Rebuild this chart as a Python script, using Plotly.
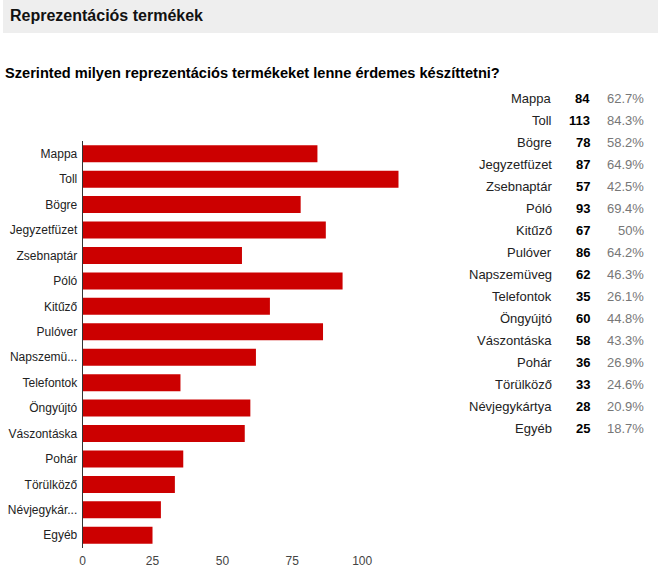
import plotly.graph_objects as go

# answers, as listed on the form summary
categories = ["Mappa", "Toll", "Bögre", "Jegyzetfüzet", "Zsebnaptár", "Póló", "Kitűző",
              "Pulóver", "Napszemüveg", "Telefontok", "Öngyújtó", "Vászontáska", "Pohár",
              "Törülköző", "Névjegykártya", "Egyéb"]
axis_labels = ["Mappa", "Toll", "Bögre", "Jegyzetfüzet", "Zsebnaptár", "Póló", "Kitűző",
               "Pulóver", "Napszemü...", "Telefontok", "Öngyújtó", "Vászontáska", "Pohár",
               "Törülköző", "Névjegykár...", "Egyéb"]
counts = [84, 113, 78, 87, 57, 93, 67, 86, 62, 35, 60, 58, 36, 33, 28, 25]
percents = ["62.7%", "84.3%", "58.2%", "64.9%", "42.5%", "69.4%", "50%", "64.2%",
            "46.3%", "26.1%", "44.8%", "43.3%", "26.9%", "24.6%", "20.9%", "18.7%"]
x_ticks = [0, 25, 50, 75, 100]

W, H = 658, 581
FONT = "Arial, Liberation Sans, sans-serif"
n_cat = len(categories)


def py(px_from_top):
    return 1 - px_from_top / H


fig = go.Figure()
fig.add_bar(
    x=counts,
    y=axis_labels,
    orientation="h",
    marker=dict(color="#cc0000", line=dict(width=0)),
    hoverinfo="x+y",
)

# summary table on the right, on its own category axis
fig.add_scatter(x=[0] * n_cat, y=categories, xaxis="x2", yaxis="y2",
                mode="markers", marker=dict(opacity=0), hoverinfo="skip")
for name, n, p in zip(categories, counts, percents):
    fig.add_annotation(x=554, y=name, xref="x2", yref="y2", text=name, showarrow=False,
                       xanchor="right", font=dict(size=13, color="#222222"))
    fig.add_annotation(x=592, y=name, xref="x2", yref="y2", text=f"<b>{n}</b>",
                       showarrow=False, xanchor="right", font=dict(size=13, color="#000000"))
    fig.add_annotation(x=646, y=name, xref="x2", yref="y2", text=p, showarrow=False,
                       xanchor="right", font=dict(size=13, color="#777777"))

# header band
fig.add_shape(type="rect", xref="paper", yref="paper", x0=0, x1=1, y0=py(33), y1=1,
              fillcolor="#eeeeee", line=dict(width=0), layer="below")
fig.add_annotation(x=5 / W, y=py(15), xref="paper", yref="paper",
                   text="<b>Reprezentációs termékek</b>", showarrow=False,
                   xanchor="left", yanchor="middle",
                   font=dict(size=16, color="#111111"))
fig.add_annotation(x=0, y=py(73), xref="paper", yref="paper",
                   text="<b>Szerinted milyen reprezentációs termékeket lenne érdemes készíttetni?</b>",
                   showarrow=False, xanchor="left", yanchor="middle",
                   font=dict(size=14.6, color="#000000"))

fig.update_layout(
    width=W, height=H,
    margin=dict(l=0, r=0, t=0, b=0),
    paper_bgcolor="white",
    plot_bgcolor="rgba(0,0,0,0)",
    font=dict(family=FONT, size=12, color="#222222"),
    showlegend=False,
    bargap=0.33,
    xaxis=dict(domain=[80 / W, 431 / W], range=[0, 125], tickvals=x_ticks,
               showgrid=False, zeroline=False, showline=False, fixedrange=True,
               tickfont=dict(size=12, color="#444444"), ticks="", ticklabelstandoff=4),
    yaxis=dict(domain=[py(548), py(141)], range=[n_cat - 0.5, -0.5], showgrid=False,
               showline=True, linecolor="#333333", linewidth=1, ticks="", fixedrange=True,
               tickfont=dict(size=12, color="#222222"), ticklabelstandoff=2),
    xaxis2=dict(domain=[0, 1], range=[0, W], visible=False, anchor="y2", fixedrange=True),
    yaxis2=dict(domain=[py(440), py(87)], categoryorder="array", categoryarray=categories,
                range=[n_cat - 0.5, -0.5], visible=False, anchor="x2", fixedrange=True),
)

fig.write_html("out.html", config={"displayModeBar": False},
               post_script="document.body.style.margin = '0';")
